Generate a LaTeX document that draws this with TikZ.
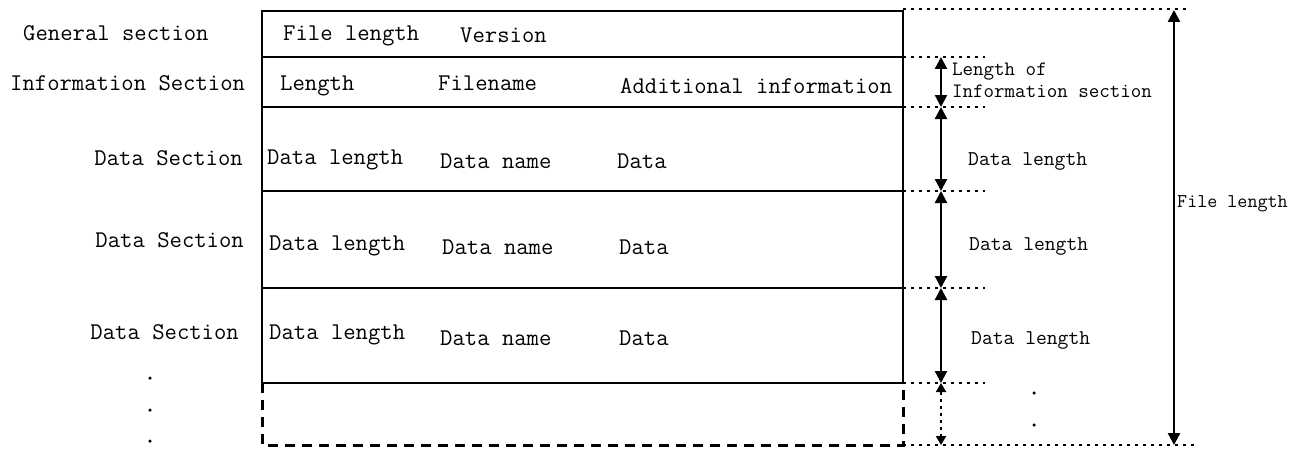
\documentclass[tikz,border=0pt]{standalone}
\usetikzlibrary{arrows.meta}
\begin{document}
\begin{tikzpicture}[x=1pt,y=-1pt,
  boxline/.style={line width=2.8pt,black},
  dashbox/.style={line width=3pt,black,dash pattern=on 10pt off 7pt},
  dotline/.style={line width=1.8pt,black,dash pattern=on 3pt off 5pt},
  dimarrow/.style={line width=2.4pt,black,{Triangle[length=12pt,width=12pt]}-{Triangle[length=12pt,width=12pt]}},
  dotarrow/.style={line width=2pt,black,dash pattern=on 3pt off 4pt,{Triangle[length=9pt,width=10pt]}-{Triangle[length=9pt,width=10pt]}},
  lab/.style={font=\ttfamily\fontsize{24}{28}\selectfont,inner sep=0pt},
  rlab/.style={font=\ttfamily\fontsize{21}{25}\selectfont,inner sep=0pt},
  slab/.style={font=\ttfamily\fontsize{20.4}{24}\selectfont,inner sep=0pt},
  flab/.style={font=\ttfamily\fontsize{19.5}{23}\selectfont,inner sep=0pt},
  dotmark/.style={circle,fill=black,inner sep=0pt,minimum size=3.5pt}
]
\useasboundingbox (0,0) rectangle (1307,452);
% main box
\draw[boxline] (262,11) rectangle (903,383);
\draw[boxline] (262,57) -- (903,57);
\draw[boxline] (262,107) -- (903,107);
\draw[boxline] (262,191) -- (903,191);
\draw[boxline] (262,288) -- (903,288);
\draw[dashbox] (262,383) -- (262,445) -- (903,445) -- (903,383);
% dotted extension lines
\draw[dotline] (903,9) -- (1188,9);
\draw[dotline] (903,57) -- (985,57);
\draw[dotline] (903,107) -- (985,107);
\draw[dotline] (903,191) -- (985,191);
\draw[dotline] (903,288) -- (985,288);
\draw[dotline] (903,383) -- (985,383);
\draw[dotline] (903,445) -- (1197,445);
% dimension coordinates
\coordinate (a0) at (941,57);
\coordinate (a1) at (941,107);
\coordinate (a2) at (941,191);
\coordinate (a3) at (941,288);
\coordinate (a4) at (941,383);
\coordinate (a5) at (941,445);
\coordinate (b0) at (1174,10);
\coordinate (b1) at (1174,445);
\draw[dimarrow] (a0) -- (a1);
\draw[dimarrow] (a1) -- (a2);
\draw[dimarrow] (a2) -- (a3);
\draw[dimarrow] (a3) -- (a4);
\draw[dotarrow] (a4) -- (a5);
\draw[dimarrow] (b0) -- (b1);
% left labels
\node[lab,anchor=base west] (lgen) at (23,41) {General section};
\node[lab,anchor=base west] (linf) at (10,91) {Information Section};
\node[lab,anchor=base east] (ld1) at (243,165) {Data Section};
\node[lab,anchor=base east] (ld2) at (244,247) {Data Section};
\node[lab,anchor=base east] (ld3) at (239,339) {Data Section};
\node[dotmark] (ldot1) at (150,378) {};
\node[dotmark] (ldot2) at (150,410) {};
\node[dotmark] (ldot3) at (150,441) {};
% inside labels
\node[lab,anchor=base west] (fl) at (283,41) {File length};
\node[lab,anchor=base west] (ver) at (460,43) {Version};
\node[lab,anchor=base west] (len) at (280,91) {Length};
\node[lab,anchor=base west] (fn) at (438,91) {Filename};
\node[lab,anchor=base west] (add) at (620,93) {Additional information};
\node[lab,anchor=base west] (dl1) at (267,164) {Data length};
\node[lab,anchor=base west] (dn1) at (440,168) {Data name};
\node[lab,anchor=base west] (dd1) at (617,168) {Data};
\node[lab,anchor=base west] (dl2) at (269,250) {Data length};
\node[lab,anchor=base west] (dn2) at (442,254) {Data name};
\node[lab,anchor=base west] (dd2) at (619,254) {Data};
\node[lab,anchor=base west] (dl3) at (269,339) {Data length};
\node[lab,anchor=base west] (dn3) at (440,345) {Data name};
\node[lab,anchor=base west] (dd3) at (619,345) {Data};
% right labels
\node[slab,anchor=base west] (loi1) at (952,75) {Length of};
\node[slab,anchor=base west] (loi2) at (952,97) {Information section};
\node[rlab,anchor=base west] (rd1) at (968,165) {Data length};
\node[rlab,anchor=base west] (rd2) at (969,250) {Data length};
\node[rlab,anchor=base west] (rd3) at (971,344) {Data length};
\node[flab,anchor=base west] (rfl) at (1177,207) {File length};
\node[dotmark] (rdot1) at (1034,393) {};
\node[dotmark] (rdot2) at (1034,425) {};
\end{tikzpicture}
\end{document}
